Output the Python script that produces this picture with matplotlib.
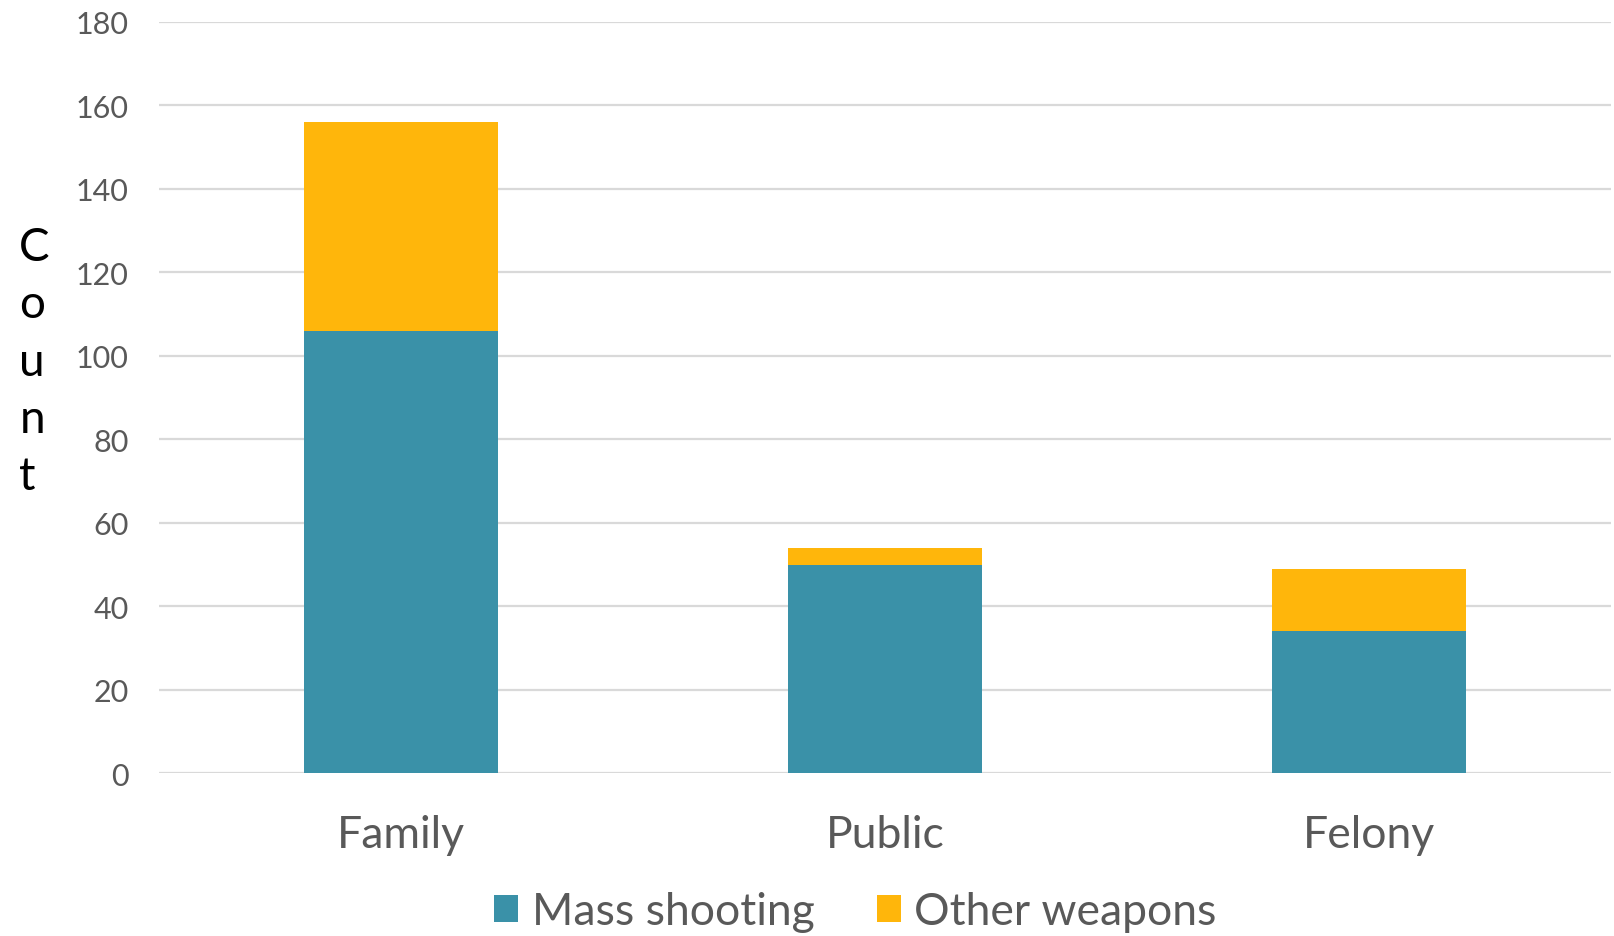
import matplotlib
matplotlib.use("Agg")
import matplotlib.pyplot as plt
import numpy as np

# data
categories = ["Family", "Public", "Felony"]
mass_shooting = [106, 50, 34]
other_weapons = [50, 4, 15]
series_names = ["Mass shooting", "Other weapons"]
yticks = list(range(0, 181, 20))

teal = "#3A91A8"
gold = "#FFB60B"
grey_txt = "#595959"

plt.rcParams["font.family"] = ["Lato", "DejaVu Sans"]

fig = plt.figure(figsize=(16.14, 9.37), dpi=100)
ax = fig.add_axes([0.0985, 0.1736, 0.8995, 0.8019])

x = np.arange(len(categories))
ax.bar(x, mass_shooting, width=0.4, color=teal, label=series_names[0], zorder=3)
ax.bar(x, other_weapons, width=0.4, bottom=mass_shooting, color=gold,
       label=series_names[1], zorder=3)

ax.set_xlim(-0.5, len(categories) - 0.5)
ax.set_ylim(0, 180)
ax.set_yticks(yticks)
ax.set_xticks(x)
ax.set_xticklabels(categories)
ax.grid(axis="y", color="#d9d9d9", linewidth=1.6, zorder=0)
ax.set_axisbelow(True)
for s in ax.spines.values():
    s.set_visible(False)
ax.tick_params(axis="y", length=0, pad=22, labelsize=22, labelcolor=grey_txt)
ax.tick_params(axis="x", length=0, pad=29, labelsize=32, labelcolor=grey_txt)

# vertical stacked y label
fig.text(0.012, 0.613, "C\no\nu\nn\nt", fontsize=33, color="black",
         ha="left", va="center", linespacing=1.45)

fig.legend(loc="lower center", bbox_to_anchor=(0.53, 0.004), ncol=2,
           frameon=False, fontsize=32, labelcolor=grey_txt,
           handlelength=0.55, handleheight=0.55, handletextpad=0.3,
           columnspacing=1.4, borderpad=0, borderaxespad=0)

fig.savefig("out.png", dpi=100)
